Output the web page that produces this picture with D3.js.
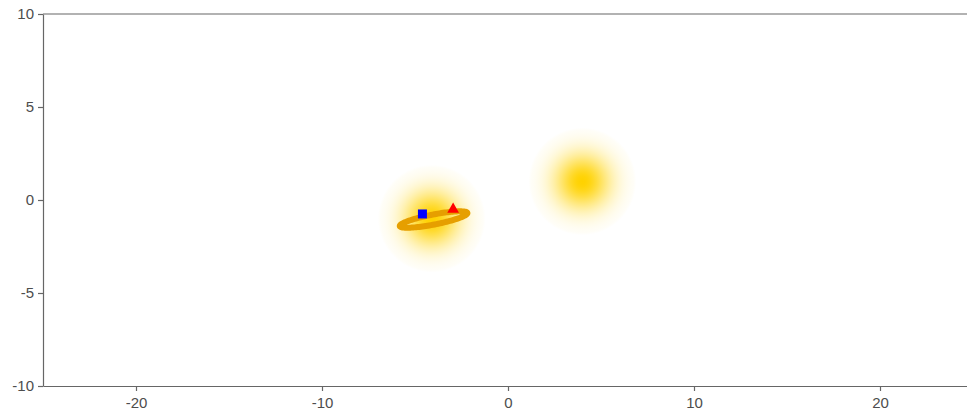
<!DOCTYPE html>
<html>
<head>
<meta charset="utf-8">
<script src="https://cdn.jsdelivr.net/npm/d3@7"></script>
<style>
  html, body { margin: 0; padding: 0; background: #fff; }
  svg { display: block; }
  .axis text { font-family: "Liberation Sans", Arial, sans-serif; font-size: 15px; fill: #4d4d4d; }
  .axis path, .axis line { stroke: #666; stroke-width: 1.2; }
</style>
</head>
<body>
<svg id="chart" width="967" height="417"></svg>
<script>
// Axis domains and ticks
const xDomain = [-25, 25];
const yDomain = [-10, 10];
const xTicks = [-20, -10, 0, 10, 20];
const yTicks = [-10, -5, 0, 5, 10];

// Glowing density centres (x, y)
const glowX = [-4.1, 4.0];
const glowY = [-1.0, 1.0];
const glowRadius = 2.9;

// Confidence ellipse: centre, semi-axes, rotation (degrees)
const ellipseCenter = [-4.0, -1.05];
const ellipseAxes = [1.85, 0.27];
const ellipseAngle = 11;

// Marked points
const squarePoint = [-4.6, -0.75];
const trianglePoint = [-2.95, -0.5];

const svg = d3.select("#chart");
const margin = { left: 43, top: 14 };
const plotW = 930, plotH = 372;

const x = d3.scaleLinear().domain(xDomain).range([margin.left, margin.left + plotW]);
const y = d3.scaleLinear().domain(yDomain).range([margin.top + plotH, margin.top]);

// Gaussian-shaped radial gradient for the glow
const defs = svg.append("defs");
const grad = defs.append("radialGradient").attr("id", "glow");
d3.range(0, 1.0001, 0.05).forEach(o => {
  const a = Math.exp(-(o * o) / (2 * 0.36 * 0.36));
  grad.append("stop").attr("offset", o).attr("stop-color", "#FFD200")
    .attr("stop-opacity", o >= 1 ? 0 : a);
});

const pxPerUnit = x(1) - x(0);
svg.append("g").selectAll("circle")
  .data(glowX.map((gx, i) => [gx, glowY[i]]))
  .join("circle")
  .attr("cx", d => x(d[0]))
  .attr("cy", d => y(d[1]))
  .attr("r", glowRadius * pxPerUnit)
  .attr("fill", "url(#glow)");

// Ellipse outline
const th = ellipseAngle * Math.PI / 180;
const ellPts = d3.range(0, 361, 3).map(t => {
  const a = t * Math.PI / 180;
  const ex = ellipseAxes[0] * Math.cos(a), ey = ellipseAxes[1] * Math.sin(a);
  return [ellipseCenter[0] + ex * Math.cos(th) - ey * Math.sin(th),
          ellipseCenter[1] + ex * Math.sin(th) + ey * Math.cos(th)];
});
svg.append("path")
  .datum(ellPts)
  .attr("d", d3.line().x(d => x(d[0])).y(d => y(d[1])).curve(d3.curveLinearClosed))
  .attr("fill", "none")
  .attr("stroke", "#E69F00")
  .attr("stroke-width", 6);

// Points
svg.append("path")
  .attr("d", d3.symbol(d3.symbolSquare, 81)())
  .attr("transform", `translate(${x(squarePoint[0])},${y(squarePoint[1])})`)
  .attr("fill", "#0000FF");
svg.append("path")
  .attr("d", d3.symbol(d3.symbolTriangle, 60)())
  .attr("transform", `translate(${x(trianglePoint[0])},${y(trianglePoint[1])})`)
  .attr("fill", "#FF0000");

// Axes (plain hyphen-minus labels)
const fmt = d => String(d);
svg.append("g").attr("class", "axis")
  .attr("transform", `translate(0,${margin.top + plotH})`)
  .call(d3.axisBottom(x).tickValues(xTicks).tickFormat(fmt).tickSize(5).tickPadding(6).tickSizeOuter(0));
svg.append("g").attr("class", "axis")
  .attr("transform", `translate(${margin.left},0)`)
  .call(d3.axisLeft(y).tickValues(yTicks).tickFormat(fmt).tickSize(5).tickPadding(4).tickSizeOuter(0));
svg.append("line")
  .attr("x1", margin.left).attr("x2", margin.left + plotW)
  .attr("y1", margin.top).attr("y2", margin.top)
  .attr("stroke", "#666").attr("stroke-width", 1.2);
</script>
</body>
</html>
